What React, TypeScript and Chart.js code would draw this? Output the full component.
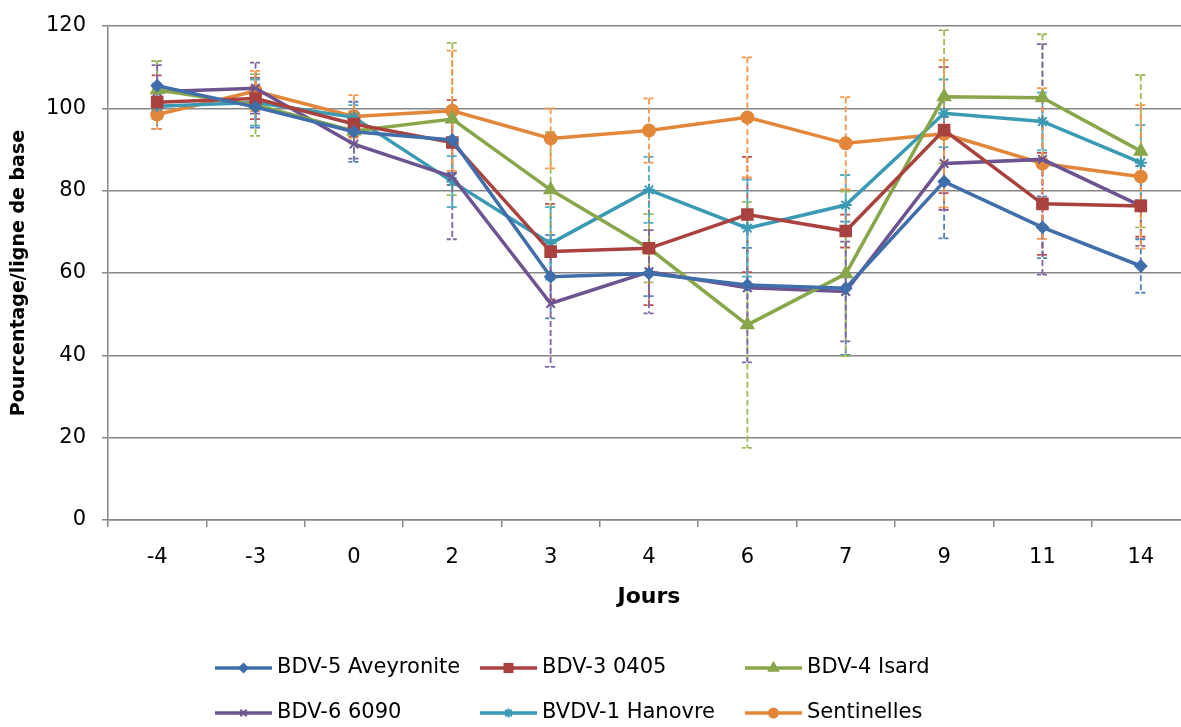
import React, { useEffect, useRef } from "react";
import { Chart, registerables } from "chart.js";
import { drawPoint } from "chart.js/helpers";

Chart.register(...registerables);

const days = ["-4", "-3", "0", "2", "3", "4", "6", "7", "9", "11", "14"];

const seriesNames = [
  "BDV-5 Aveyronite",
  "BDV-3 0405",
  "BDV-4 Isard",
  "BDV-6 6090",
  "BVDV-1 Hanovre",
  "Sentinelles",
];

const bdv5 = [105.5, 100.3, 94.3, 92.3, 59.1, 59.9, 57.1, 56.3, 82.2, 71.1, 61.7];
const bdv3 = [101.5, 102.4, 96.2, 91.7, 65.2, 66.0, 74.2, 70.2, 94.7, 76.8, 76.3];
const bdv4 = [104.5, 100.8, 94.5, 97.4, 80.2, 66.0, 47.4, 59.8, 102.8, 102.6, 89.6];
const bdv6 = [104.0, 104.9, 91.3, 83.4, 52.6, 60.3, 56.4, 55.5, 86.6, 87.6, 76.3];
const bvdv1 = [100.5, 101.4, 97.8, 82.2, 67.2, 80.2, 70.9, 76.5, 98.8, 96.8, 86.8];
const sentinelles = [98.5, 104.2, 98.0, 99.4, 92.7, 94.6, 97.8, 91.5, 93.8, 86.6, 83.4];

const errBdv5 = [6, 5, 7.3, 8, 10.1, 5.5, 9, 16.2, 13.8, 7.5, 6.5];
const errBdv3 = [6.5, 5, 3, 10.3, 11.6, 13.8, 14, 4, 15.3, 12.4, 7.5];
const errBdv4 = [7, 7.5, 3, 18.5, 14.1, 8.3, 29.9, 20, 16.2, 15.4, 18.5];
const errBdv6 = [6.5, 6.2, 3.5, 15.2, 15.4, 10.1, 18.1, 12.1, 11.3, 28, 9.7];
const errBvdv1 = [5.5, 5.6, 3, 6.2, 8.8, 8, 11.8, 7.3, 8.2, 7, 9.1];
const errSent = [3.5, 4.9, 5.2, 14.6, 7.3, 7.8, 14.6, 11.2, 17.9, 18.3, 17.4];

const yTicks = [0, 20, 40, 60, 80, 100, 120];

const lineColors = ["#3F6EAA", "#A9423F", "#88A64A", "#6D5490", "#3A99B3", "#E2873A"];
const errColors = ["#4F81BD", "#C0504D", "#9BBB59", "#8064A2", "#4BACC6", "#F79646"];
const pointStyles = ["rectRot", "rect", "triangle", "crossRot", "star", "circle"];
const pointRadii = [5.5, 7.5, 7, 6, 6, 6];

const FONT = "'DejaVu Sans', 'Open Sans', sans-serif";

const errorBarPlugin = {
  id: "errorBars",
  beforeDatasetsDraw(chart: any) {
    const ctx = chart.ctx;
    const yScale = chart.scales.y;
    const errs = [errBdv5, errBdv3, errBdv4, errBdv6, errBvdv1, errSent];
    ctx.save();
    chart.data.datasets.forEach((ds: any, i: number) => {
      const meta = chart.getDatasetMeta(i);
      ctx.strokeStyle = errColors[i];
      ctx.lineWidth = 1.8;
      meta.data.forEach((pt: any, j: number) => {
        const v = ds.data[j];
        const e = errs[i][j];
        const x = pt.x;
        const yt = yScale.getPixelForValue(v + e);
        const yb = yScale.getPixelForValue(v - e);
        ctx.setLineDash([6, 3]);
        ctx.beginPath();
        ctx.moveTo(x, yt);
        ctx.lineTo(x, yb);
        ctx.stroke();
        ctx.setLineDash([4, 2]);
        ctx.beginPath();
        ctx.moveTo(x - 5.5, yt);
        ctx.lineTo(x + 5.5, yt);
        ctx.moveTo(x - 5.5, yb);
        ctx.lineTo(x + 5.5, yb);
        ctx.stroke();
      });
    });
    ctx.restore();
  },
};

const legendPlugin = {
  id: "gridLegend",
  afterDraw(chart: any) {
    const ctx = chart.ctx;
    const colX = [215, 480, 745];
    const rowY = [668, 713];
    ctx.save();
    chart.data.datasets.forEach((ds: any, i: number) => {
      const x = colX[i % 3];
      const y = rowY[Math.floor(i / 3)];
      ctx.strokeStyle = lineColors[i];
      ctx.fillStyle = lineColors[i];
      ctx.lineWidth = 3.5;
      ctx.setLineDash([]);
      ctx.beginPath();
      ctx.moveTo(x, y);
      ctx.lineTo(x + 57, y);
      ctx.stroke();
      ctx.lineWidth = 2;
      drawPoint(
        ctx,
        {
          pointStyle: pointStyles[i] as any,
          radius: pointRadii[i] * 0.75,
          borderWidth: 2,
          rotation: 0,
        } as any,
        x + 28.5,
        y
      );
      ctx.fillStyle = "#000000";
      ctx.font = `21px ${FONT}`;
      ctx.textBaseline = "middle";
      ctx.textAlign = "left";
      ctx.fillText(ds.label, x + 62, y);
    });
    ctx.restore();
  },
};

export default function App() {
  const canvasRef = useRef<HTMLCanvasElement | null>(null);

  useEffect(() => {
    document.body.style.margin = "0";
    document.body.style.overflow = "hidden";
    const allData = [bdv5, bdv3, bdv4, bdv6, bvdv1, sentinelles];
    const chart = new Chart(canvasRef.current as HTMLCanvasElement, {
      type: "line",
      data: {
        labels: days,
        datasets: allData.map((d, i) => ({
          label: seriesNames[i],
          data: d,
          borderColor: lineColors[i],
          backgroundColor: lineColors[i],
          pointBackgroundColor: lineColors[i],
          pointBorderColor: lineColors[i],
          pointStyle: pointStyles[i] as any,
          pointRadius: pointRadii[i],
          pointBorderWidth: 2,
          borderWidth: 3.5,
          tension: 0,
          fill: false,
        })),
      },
      options: {
        animation: false,
        responsive: false,
        maintainAspectRatio: false,
        layout: { padding: { top: 26, left: 0, right: 10, bottom: 107 } },
        plugins: {
          legend: { display: false },
          tooltip: { enabled: false },
        },
        scales: {
          x: {
            type: "category",
            offset: true,
            grid: {
              display: true,
              drawOnChartArea: false,
              drawTicks: true,
              offset: true,
              tickLength: 7,
              color: "#868686",
              lineWidth: 1.5,
            },
            border: { color: "#868686", width: 1.5 },
            ticks: {
              color: "#000000",
              font: { family: FONT, size: 21 },
              padding: 18,
              maxRotation: 0,
            },
            title: {
              display: true,
              text: "Jours",
              color: "#000000",
              font: { family: FONT, size: 22, weight: "bold" },
              padding: { top: 0, bottom: 10 },
            },
            afterFit(scale: any) {
              scale.height = 100;
            },
          },
          y: {
            min: 0,
            max: 120,
            afterBuildTicks(scale: any) {
              scale.ticks = yTicks.map((v) => ({ value: v }));
            },
            grid: {
              color: "#868686",
              lineWidth: 1.5,
              tickLength: 6,
            },
            border: { color: "#868686", width: 1.5 },
            ticks: {
              color: "#000000",
              font: { family: FONT, size: 21 },
              padding: 16,
            },
            title: {
              display: true,
              text: "Pourcentage/ligne de base",
              color: "#000000",
              font: { family: FONT, size: 19, weight: "bold" },
              padding: { top: 8, bottom: 0 },
            },
            afterFit(scale: any) {
              scale.width = 108;
              scale.paddingTop = 0;
              scale.paddingBottom = 0;
            },
          },
        },
      },
      plugins: [errorBarPlugin, legendPlugin],
    });
    return () => chart.destroy();
  }, []);

  return (
    <div style={{ width: 1200, height: 727, background: "#ffffff" }}>
      <canvas ref={canvasRef} width={1200} height={727} style={{ display: "block" }} />
    </div>
  );
}
